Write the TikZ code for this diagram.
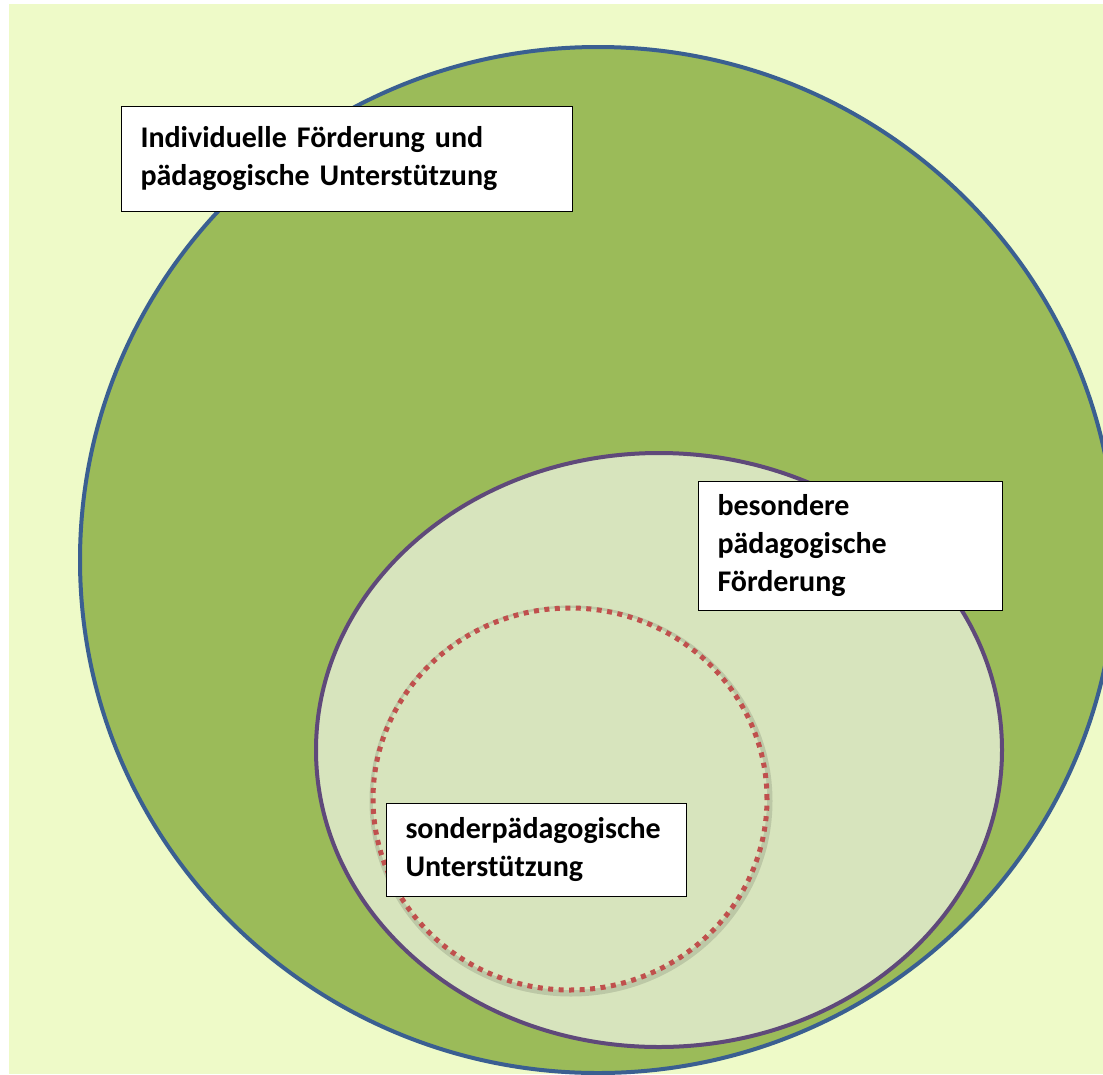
\documentclass[tikz,border=0pt]{standalone}
\usepackage{fontspec}
\setmainfont{Carlito}
\definecolor{bgyellow}{HTML}{EEFAC8}
\definecolor{olivegreen}{HTML}{9BBB59}
\definecolor{lightgreen}{HTML}{D7E4BD}
\definecolor{borderblue}{HTML}{3A5F91}
\definecolor{borderpurple}{HTML}{5F497A}
\definecolor{dotred}{HTML}{C0504D}

\begin{document}
\begin{tikzpicture}[x=1pt, y=-1pt,
	labelbox/.style={draw=black, line width=1pt, fill=white, anchor=north west,
		inner xsep=19pt, inner ysep=0pt, align=left,
		font=\fontsize{30}{38}\selectfont\bfseries}]
	\useasboundingbox (0,0) rectangle (1103,1074);
	\clip (0,0) rectangle (1103,1074);
	% Hintergrund
	\fill[bgyellow] (9,4) rectangle (1103,1074);
	% Kreise
	\draw[fill=olivegreen, draw=borderblue, line width=4pt] (598,560) ellipse [x radius=518pt, y radius=513pt];
	\draw[fill=lightgreen, draw=borderpurple, line width=4pt] (659,750) ellipse [x radius=343pt, y radius=297pt];
	\draw[black, opacity=0.12, line width=9pt] (571,801) ellipse [x radius=197pt, y radius=191pt];
	\draw[fill=lightgreen, draw=dotred, line width=5pt, dash pattern=on 5pt off 5.5pt] (570,799) ellipse [x radius=197pt, y radius=191pt];
	% Beschriftungen
	\node[labelbox, text width=413pt, minimum height=105pt] (allgemein) at (121,106) {Individuelle Förderung und\\pädagogische Unterstützung};
	\node[labelbox, text width=266pt, minimum height=129pt] (besonders) at (698,481) {besondere\\pädagogische\\Förderung};
	\node[labelbox, text width=262pt, minimum height=93pt] (sonder) at (386,803) {sonderpädagogische\\Unterstützung};
\end{tikzpicture}
\end{document}
